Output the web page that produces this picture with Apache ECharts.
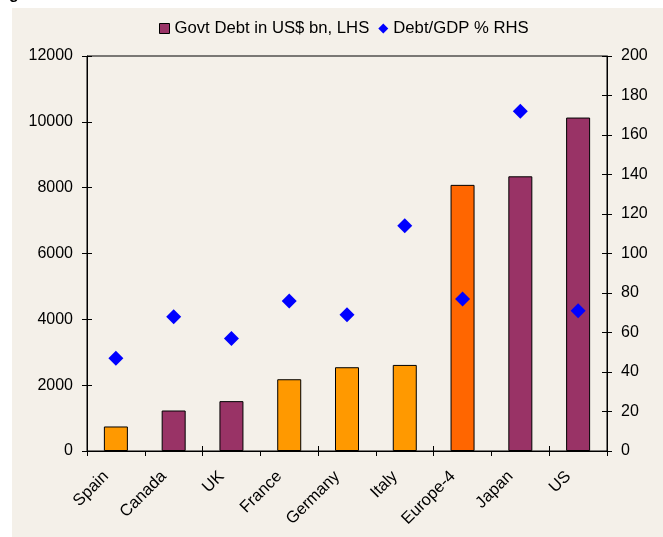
<!DOCTYPE html>
<html>
<head>
<meta charset="utf-8">
<script src="https://cdn.jsdelivr.net/npm/echarts@6/dist/echarts.min.js"></script>
<style>
  html, body { margin: 0; padding: 0; background: #ffffff; }
  #chart { width: 663px; height: 537px; }
</style>
</head>
<body>
<div id="chart"></div>
<script>
// Government debt by country (US$ bn, left axis) and debt/GDP ratio (% , right axis)
const categories = ['Spain', 'Canada', 'UK', 'France', 'Germany', 'Italy', 'Europe-4', 'Japan', 'US'];
const govtDebt = [745, 1230, 1515, 2180, 2545, 2615, 8085, 8345, 10130];
const debtToGdp = [47, 68, 57, 76, 69, 114, 77, 172, 71];
// bar fill groups: euro members, Europe-4 aggregate, others
const barGroup = ['euro', 'other', 'other', 'euro', 'euro', 'euro', 'agg', 'other', 'other'];

const groupColor = { euro: '#FF9900', agg: '#FF6600', other: '#993366' };
const FONT = '"Liberation Sans", Arial, sans-serif';
const FS = 16;

const chart = echarts.init(document.getElementById('chart'), null, { renderer: 'canvas' });

const lineStyle = { color: '#000', width: 1 };
const plain = v => String(v);

chart.setOption({
  backgroundColor: '#ffffff',
  animation: false,
  textStyle: { fontFamily: FONT, color: '#000' },
  graphic: [
    {
      type: 'rect', z: -10, silent: true,
      shape: { x: 12, y: 8, width: 651, height: 529 },
      style: { fill: '#F4F0E9' }
    },
    {
      type: 'text', silent: true, x: 9, y: 3,
      style: { text: 'g', font: 'bold 16px ' + FONT, fill: '#000', textVerticalAlign: 'bottom' }
    }
  ],
  legend: {
    left: 159, top: 20, padding: 0,
    itemWidth: 10, itemHeight: 10,
    itemGap: 9,
    textStyle: { fontFamily: FONT, fontSize: 16.7, color: '#000' },
    data: [
      { name: 'Govt Debt in US$ bn, LHS', icon: 'rect',
        itemStyle: { color: '#993366', borderColor: '#000', borderWidth: 1 } },
      { name: 'Debt/GDP % RHS', icon: 'diamond',
        itemStyle: { color: '#0000FF', borderWidth: 0 } }
    ]
  },
  grid: {
    left: 87, top: 56, width: 520, height: 395,
    show: true, borderColor: '#000', borderWidth: 1, backgroundColor: 'transparent'
  },
  xAxis: [
    {
      type: 'category', data: categories, position: 'bottom',
      axisLine: { lineStyle },
      axisTick: { show: true, length: 5, lineStyle, alignWithLabel: false },
      axisLabel: {
        rotate: 45, margin: 13, padding: [0, 14, 0, 0],
        fontFamily: FONT, fontSize: 16.5, color: '#000', interval: 0
      }
    },
    {
      // inner half of the crossing category ticks
      type: 'category', data: categories, position: 'bottom', offset: 0,
      axisLine: { show: false },
      axisTick: { show: true, inside: true, length: 5, lineStyle },
      axisLabel: { show: false }
    }
  ],
  yAxis: [
    {
      type: 'value', position: 'left', min: 0, max: 12000, interval: 2000,
      splitLine: { show: false },
      axisLine: { show: true, lineStyle },
      axisTick: { show: true, length: 5, lineStyle },
      axisLabel: { margin: 14, formatter: plain, fontFamily: FONT, fontSize: FS, color: '#000' }
    },
    {
      type: 'value', position: 'right', min: 0, max: 200, interval: 20,
      splitLine: { show: false },
      axisLine: { show: true, lineStyle },
      axisTick: { show: true, length: 5, lineStyle },
      axisLabel: { margin: 14, formatter: plain, fontFamily: FONT, fontSize: FS, color: '#000' }
    },
    {
      // inner half of the crossing ticks, left
      type: 'value', position: 'left', min: 0, max: 12000, interval: 2000, offset: 0,
      splitLine: { show: false }, axisLine: { show: false },
      axisTick: { show: true, inside: true, length: 5, lineStyle },
      axisLabel: { show: false }
    },
    {
      // inner half of the crossing ticks, right
      type: 'value', position: 'right', min: 0, max: 200, interval: 20, offset: 0,
      splitLine: { show: false }, axisLine: { show: false },
      axisTick: { show: true, inside: true, length: 5, lineStyle },
      axisLabel: { show: false }
    }
  ],
  series: [
    {
      name: 'Govt Debt in US$ bn, LHS',
      type: 'bar', xAxisIndex: 0, yAxisIndex: 0,
      barWidth: 24,
      itemStyle: { color: '#993366', borderColor: '#000', borderWidth: 1 },
      data: govtDebt.map((v, i) => ({
        value: v,
        itemStyle: { color: groupColor[barGroup[i]] }
      }))
    },
    {
      name: 'Debt/GDP % RHS',
      type: 'scatter', xAxisIndex: 0, yAxisIndex: 1,
      symbol: 'diamond', symbolSize: 15,
      itemStyle: { color: '#0000FF', opacity: 1 },
      data: debtToGdp,
      z: 5
    }
  ]
});
</script>
</body>
</html>
